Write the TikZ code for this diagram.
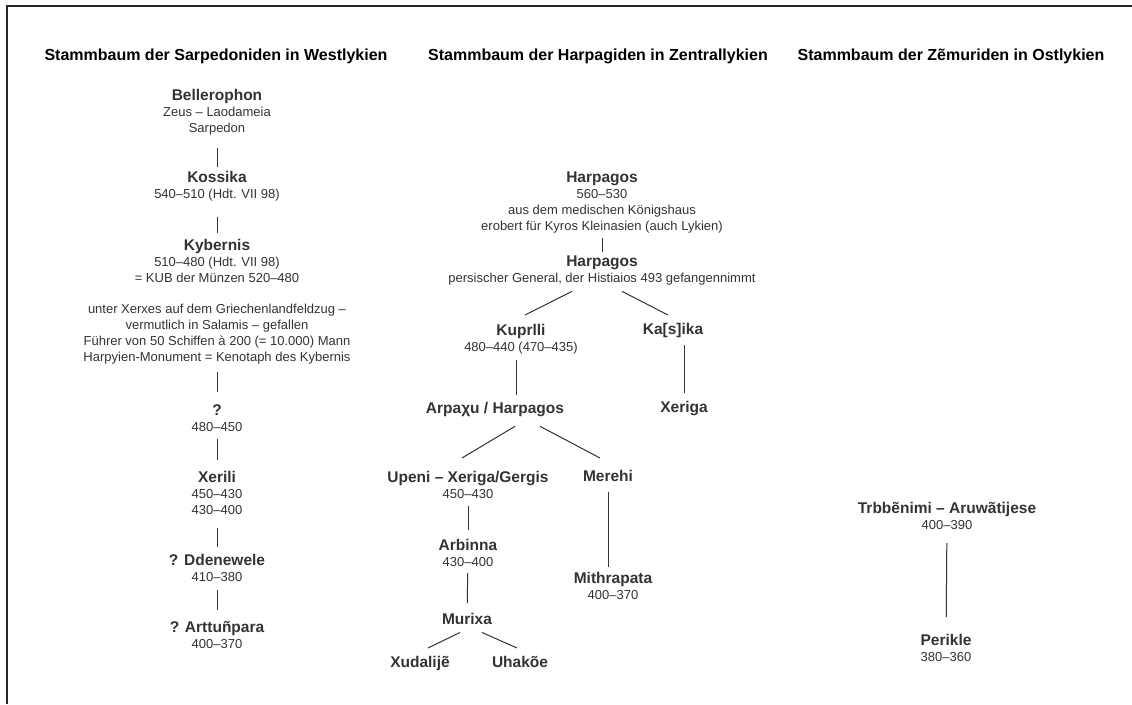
\documentclass[tikz,border=0pt]{standalone}
\usepackage{fontspec}
\setmainfont{Liberation Sans}
\usepackage{tikz}
\usetikzlibrary{positioning}

\newcommand\nmf{\fontsize{15.5}{18}\selectfont\bfseries}
\newcommand\dtf{\fontsize{13}{16}\selectfont\color{black!80}}

\begin{document}
\begin{tikzpicture}[x=1pt,y=-1pt,
  ttl/.style={font=\fontsize{16}{19}\selectfont\bfseries, anchor=base, inner sep=0pt},
  pers/.style={align=center, anchor=north, inner sep=0pt, font=\dtf},
  lnk/.style={draw=black!80, line width=1pt}
]
\fill[white] (0,0) rectangle (1132,704);
\useasboundingbox (0,0) rectangle (1132,704);
\draw[line width=1.6pt, black!85] (1132,6) -- (7,6) -- (7,704);

% titles
\node[ttl] (tw) at (216,60.5) {Stammbaum der Sarpedoniden in Westlykien};
\node[ttl] (tm) at (598,60.5) {Stammbaum der Harpagiden in Zentrallykien};
\node[ttl] (te) at (951,60.5) {Stammbaum der Zẽmuriden in Ostlykien};

% Westlykien
\node[pers] (bell)    at (217,89)  {{\nmf Bellerophon}\\Zeus -- Laodameia\\Sarpedon};
\node[pers] (koss)    at (217,171) {{\nmf Kossika}\\540--510 (Hdt. VII 98)};
\node[pers] (kyb)     at (217,239) {{\nmf Kybernis}\\510--480 (Hdt. VII 98)\\= KUB der Münzen 520--480};
\node[pers] (kybnote) at (217,304) {unter Xerxes auf dem Griechenlandfeldzug --\\vermutlich in Salamis -- gefallen\\Führer von 50 Schiffen à 200 (= 10.000) Mann\\Harpyien-Monument = Kenotaph des Kybernis};
\node[pers] (unk)     at (217,404) {{\nmf ?}\\480--450};
\node[pers] (xerili)  at (217,471) {{\nmf Xerili}\\450--430\\430--400};
\node[pers] (ddene)   at (217,554) {{\nmf ? Ddenewele}\\410--380};
\node[pers] (arttu)   at (217,621) {{\nmf ? Arttuñpara}\\400--370};

\draw[lnk, shorten <=13pt, shorten >=4pt] (bell) -- (koss);
\draw[lnk, shorten <=15.5pt, shorten >=6pt] (koss) -- (kyb);
\draw[lnk, shorten <=7.5pt, shorten >=12pt] (kybnote) -- (unk);
\draw[lnk, shorten <=7.3pt, shorten >=11pt] (unk) -- (xerili);
\draw[lnk, shorten <=13.3pt, shorten >=7pt] (xerili) -- (ddene);
\draw[lnk, shorten <=8.3pt, shorten >=11pt] (ddene) -- (arttu);

% Zentrallykien
\node[pers] (harp1)   at (602,172) {{\nmf Harpagos}\\560--530\\aus dem medischen Königshaus\\erobert für Kyros Kleinasien (auch Lykien)};
\node[pers] (harp2)   at (602,256) {{\nmf Harpagos}\\persischer General, der Histiaios 493 gefangennimmt};
\node[pers] (kupr)    at (521,324) {{\nmf Kuprlli}\\480--440 (470--435)};
\node[pers] (kasika)  at (673,323) {{\nmf Ka[s]ika}};
\node[pers] (arpa)    at (495,402) {{\nmf Arpaχu / Harpagos}};
\node[pers] (xeriga)  at (684,401) {{\nmf Xeriga}};
\node[pers] (upeni)   at (468,471) {{\nmf Upeni -- Xeriga/Gergis}\\450--430};
\node[pers] (merehi)  at (608,470) {{\nmf Merehi}};
\node[pers] (arbinna) at (468,539) {{\nmf Arbinna}\\430--400};
\node[pers] (mithra)  at (613,572) {{\nmf Mithrapata}\\400--370};
\node[pers] (murixa)  at (467,613) {{\nmf Murixa}};
\node[pers] (xudal)   at (420,656) {{\nmf Xudalijẽ}};
\node[pers] (uhak)    at (520,656) {{\nmf Uhakõe}};

\draw[lnk, shorten <=4.6pt, shorten >=4pt] (harp1) -- (harp2);
\draw[lnk] ([xshift=-30pt,yshift=-5.6pt]harp2.south) -- ([xshift=4pt,yshift=9pt]kupr.north);
\draw[lnk] ([xshift=20pt,yshift=-5.6pt]harp2.south) -- ([xshift=-5pt,yshift=8pt]kasika.north);
\draw[lnk] ([xshift=-5pt,yshift=-5.6pt]kupr.south) -- ([xshift=21pt,yshift=7pt]arpa.north);
\draw[lnk, shorten <=7.4pt, shorten >=8pt] (kasika.south -| xeriga.north) -- (xeriga.north);
\draw[lnk] ([xshift=20pt,yshift=-9.4pt]arpa.south) -- ([xshift=-6pt,yshift=13pt]upeni.north);
\draw[lnk] ([xshift=45pt,yshift=-9.4pt]arpa.south) -- ([xshift=-8pt,yshift=12pt]merehi.north);
\draw[lnk, shorten <=7.3pt, shorten >=9pt] (upeni) -- (arbinna);
\draw[lnk, shorten <=6.3pt, shorten >=10pt] (arbinna) -- (murixa);
\draw[lnk, shorten <=10.7pt, shorten >=5pt] (merehi.south) -- (merehi.south |- mithra.north);
\draw[lnk] ([xshift=-7pt,yshift=-7.7pt]murixa.south) -- ([xshift=8pt,yshift=8pt]xudal.north);
\draw[lnk] ([xshift=15pt,yshift=-7.7pt]murixa.south) -- ([xshift=-3pt,yshift=8pt]uhak.north);

% Ostlykien
\node[pers] (trbb)    at (947,502) {{\nmf Trbbẽnimi -- Aruwãtijese}\\400--390};
\node[pers] (perikle) at (946,634) {{\nmf Perikle}\\380--360};

\draw[lnk, shorten <=13.3pt, shorten >=17pt] (trbb) -- (perikle);
\end{tikzpicture}
\end{document}
